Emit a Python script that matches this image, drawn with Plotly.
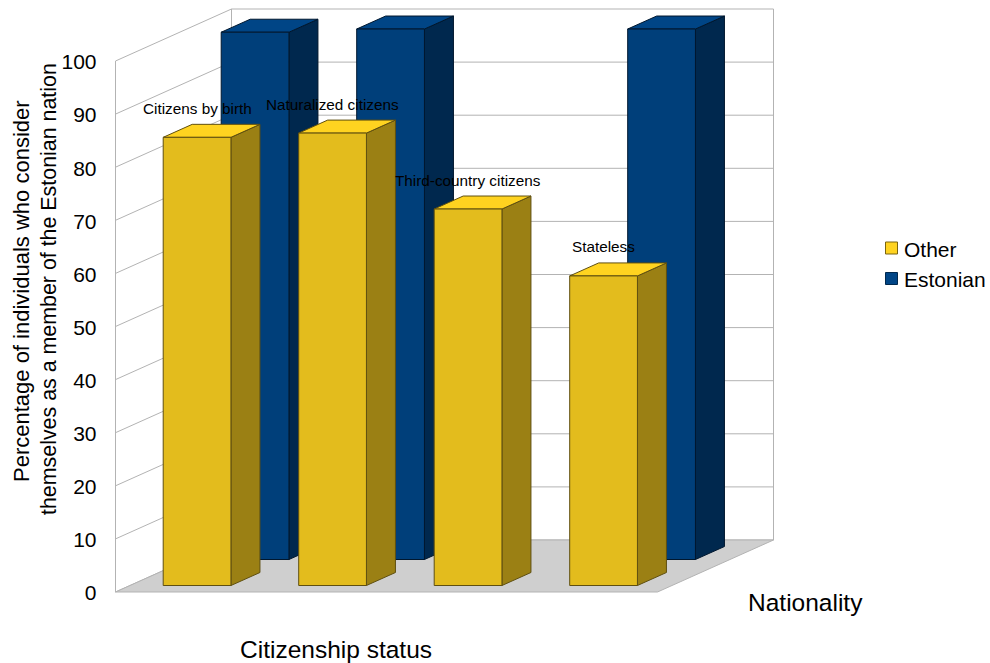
import plotly.graph_objects as go

# Survey results, percent per citizenship status
categories = ["Citizens by birth", "Naturalized citizens", "Third-country citizens", "Stateless"]
other_values = [84.4, 85.2, 70.9, 58.3]
estonian_values = [99.3, 99.9, None, 99.9]
y_ticks = list(range(0, 101, 10))

# Oblique projection: one unit of depth shifts a point right (in category units) and up (in percent)
DEPTH_X = 116 / 135.5
DEPTH_Y = 52 / 5.31
BAR_WIDTH = 0.5
BAR_OFFSET = 0.245
BAR_DEPTH = 0.25
FRONT_ROW = 0.125
BACK_ROW = 0.625
N = len(categories)

WIDTH, HEIGHT = 990, 663
X_PER_CAT = 135.5
X_ORIGIN = 115.5
Y_PER_PCT = 5.31
Y_ORIGIN = 592


def project(cat, value, depth):
    return cat + depth * DEPTH_X, value + depth * DEPTH_Y


def polygons(faces):
    """Join closed polygons into one trace path, separated by gaps."""
    xs, ys = [], []
    for face in faces:
        pts = [project(*p) for p in face] + [project(*face[0])]
        xs += [p[0] for p in pts] + [None]
        ys += [p[1] for p in pts] + [None]
    return xs, ys


def bar_faces(i, value, row):
    left = i + BAR_OFFSET
    right = left + BAR_WIDTH
    back = row + BAR_DEPTH
    front = [(left, 0, row), (right, 0, row), (right, value, row), (left, value, row)]
    side = [(right, 0, row), (right, 0, back), (right, value, back), (right, value, row)]
    top = [(left, value, row), (right, value, row), (right, value, back), (left, value, back)]
    return front, side, top


fig = go.Figure()


def add_poly(faces, fill, edge, width=1.0):
    xs, ys = polygons(faces)
    fig.add_trace(go.Scatter(x=xs, y=ys, mode="lines", fill="toself", fillcolor=fill,
                             line=dict(color=edge, width=width), hoverinfo="skip",
                             showlegend=False))


GRID = "#b3b3b3"

# Chart walls and floor
add_poly([[(0, 0, 0), (0, 0, 1), (0, 100, 1), (0, 100, 0)]], "#ffffff", GRID)
add_poly([[(0, 0, 1), (N, 0, 1), (N, 100, 1), (0, 100, 1)]], "#ffffff", GRID)
add_poly([[(0, 0, 0), (N, 0, 0), (N, 0, 1), (0, 0, 1)]], "#cfcfcf", GRID)

# Gridlines run along the left wall and across the back wall
gx, gy = [], []
for v in y_ticks[1:-1]:
    for p in [(0, v, 0), (0, v, 1), (N, v, 1)]:
        px, py = project(*p)
        gx.append(px)
        gy.append(py)
    gx.append(None)
    gy.append(None)
fig.add_trace(go.Scatter(x=gx, y=gy, mode="lines", line=dict(color=GRID, width=1),
                         hoverinfo="skip", showlegend=False))


def add_series(values, row, front_col, side_col, top_col, edge):
    faces = [bar_faces(i, v, row) for i, v in enumerate(values) if v is not None]
    add_poly([f[1] for f in faces], side_col, edge)
    add_poly([f[2] for f in faces], top_col, edge)
    add_poly([f[0] for f in faces], front_col, edge)


add_series(estonian_values, BACK_ROW, "#003f7a", "#00284e", "#004586", "#00172e")
add_series(other_values, FRONT_ROW, "#e3bc1d", "#9b8014", "#ffd320", "#5f4f10")

FONT = "Liberation Sans, Arial, sans-serif"


def to_x(px):
    return (px - X_ORIGIN) / X_PER_CAT


def to_y(py):
    return (Y_ORIGIN - py) / Y_PER_PCT


def page_text(px, py, text, size, angle=0, xanchor="center"):
    fig.add_annotation(x=px / WIDTH, y=1 - py / HEIGHT, xref="paper", yref="paper", text=text,
                       showarrow=False, textangle=angle, xanchor=xanchor, yanchor="middle",
                       xshift=0, borderpad=0, font=dict(family=FONT, size=size, color="#000000"))


# Key beside the chart: a swatch and its name for each nationality
for name, colour, edge, py in [("Other", "#ffd320", "#7a6510", 248),
                               ("Estonian", "#004586", "#00284e", 278.5)]:
    fig.add_trace(go.Scatter(x=[to_x(891.5)], y=[to_y(py)], mode="markers", name=name,
                             marker=dict(symbol="square", size=12, color=colour,
                                         line=dict(color=edge, width=1)),
                             showlegend=False, cliponaxis=False))
    page_text(903, py + 1, name, 21, xanchor="left")

# Category labels sit above the front bars
for i, (name, v) in enumerate(zip(categories, other_values)):
    lx, ly = project(i + BAR_OFFSET + BAR_WIDTH / 2, v, FRONT_ROW)
    fig.add_annotation(x=lx, y=ly, text=name, showarrow=False, yanchor="middle", yshift=29,
                       font=dict(family=FONT, size=15.3, color="#000000"))

page_text(21, 291, "Percentage of individuals who consider", 22, -90)
page_text(49, 289, "themselves as a member of the Estonian nation", 21.4, -90)
page_text(336, 649.5, "Citizenship status", 24.5)
page_text(805, 602, "Nationality", 24.5)

fig.update_layout(
    width=WIDTH, height=HEIGHT, margin=dict(l=0, r=0, t=0, b=0, autoexpand=False),
    paper_bgcolor="#ffffff", plot_bgcolor="#ffffff",
    font=dict(family=FONT, size=20, color="#000000"),
    xaxis=dict(range=[to_x(0), to_x(WIDTH)], visible=False),
    yaxis=dict(range=[to_y(HEIGHT), to_y(0)],
               tickvals=y_ticks, showgrid=False, zeroline=False, showline=False, ticks="",
               anchor="free", position=X_ORIGIN / WIDTH, ticklabelstandoff=19,
               ticklabelshift=1,
               tickfont=dict(family=FONT, size=21, color="#000000")),
    showlegend=False,
    hovermode=False,
)

fig.write_html("out.html")
